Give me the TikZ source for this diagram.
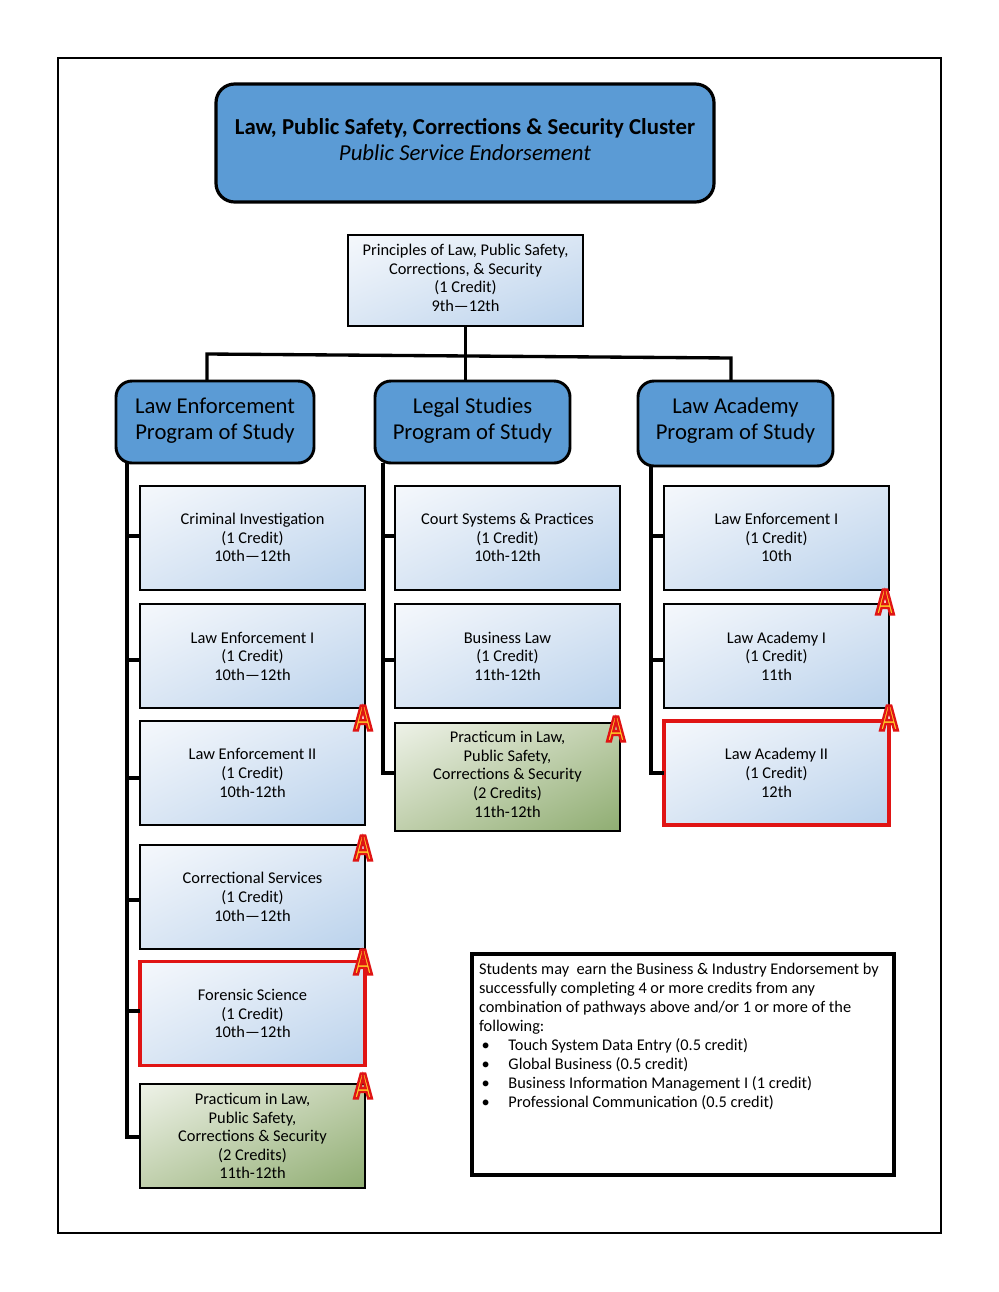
\documentclass[tikz,border=0pt]{standalone}
\usepackage{fontspec}
\setmainfont{Carlito}
\newfontface\badgefont[FakeBold=6.5,FakeStretch=0.74]{Liberation Sans Bold}
\usetikzlibrary{positioning,calc,shadings}
\definecolor{headblue}{RGB}{91,155,213}
\definecolor{alertred}{RGB}{224,20,20}
\definecolor{badgeyellow}{RGB}{255,205,40}
\definecolor{blueul}{RGB}{245,248,252}
\definecolor{bluemid}{RGB}{218,230,244}
\definecolor{bluelr}{RGB}{186,210,236}
\definecolor{greenul}{RGB}{238,242,232}
\definecolor{greenmid}{RGB}{192,207,172}
\definecolor{greenlr}{RGB}{143,173,114}
\tikzset{
  head/.style = {draw, line width=2.4pt, rounded corners=14pt, fill=headblue,
                 align=center, inner sep=0pt, outer sep=0pt,
                 font=\fontsize{17.1}{19.5}\selectfont},
  prog/.style = {head, rounded corners=12pt, line width=2.2pt,
                 font=\fontsize{17}{20}\selectfont},
  course/.style = {draw, line width=1.5pt, align=center, inner sep=0pt, outer sep=0pt,
                 minimum width=168.75pt, minimum height=78pt,
                 font=\fontsize{12.3}{14}\selectfont,
                 upper left=blueul, upper right=bluemid,
                 lower left=bluemid, lower right=bluelr},
  prac/.style = {course,
                 upper left=greenul, upper right=greenmid,
                 lower left=greenmid, lower right=greenlr},
  crit/.style = {draw=alertred, line width=2.7pt},
  wire/.style = {line width=2.5pt},
  badge/.style = {inner sep=0pt, text=badgeyellow,
                 font=\badgefont\fontsize{27}{27}\selectfont}
}
\newcommand{\redstroke}{\special{pdf:code 0.88 0.08 0.08 RG}}
\newcommand{\lift}[1]{\rule[-#1]{0pt}{#1}}
\begin{document}
\begin{tikzpicture}[x=0.75pt,y=-0.75pt]
    \useasboundingbox (0,0) rectangle (999,1292);
    \node[draw,line width=1.5pt,minimum width=662.25pt,minimum height=881.25pt,inner sep=0pt,outer sep=0pt] (frame) at (499.5,645.5){};
    \node[head,minimum width=373.5pt,minimum height=88.5pt] (title) at (465,143){{\bfseries Law, Public Safety, Corrections \& Security Cluster}\\{\itshape Public Service Endorsement}\lift{5.2pt}};
    \node[course,minimum width=176.25pt,minimum height=68.25pt] (intro) at (465.5,280.5){Principles of Law, Public Safety,\\Corrections, \& Security\\(1 Credit)\\9th—12th\lift{4.2pt}};
    % program heads
    \node[prog,minimum width=148.5pt,minimum height=61.5pt] (lawenf) at (215,422){Law Enforcement\\Program of Study\lift{4.9pt}};
    \node[prog,minimum width=146.25pt,minimum height=61.5pt] (legal) at (472.5,422){Legal Studies\\Program of Study\lift{4.9pt}};
    \node[prog,minimum width=146.25pt,minimum height=63.75pt] (academy) at (735.5,423.5){Law Academy\\Program of Study\lift{7.2pt}};
    % first column
    \node[course] (crim) at (252.5,537.5){Criminal Investigation\\(1 Credit)\\10th—12th};
    \node[course,below=11pt of crim] (leone){Law Enforcement I\\(1 Credit)\\10th—12th};
    \node[course,below=9.5pt of leone] (letwo){Law Enforcement II\\(1 Credit)\\10th-12th};
    \node[course,below=15pt of letwo] (corr){Correctional Services\\(1 Credit)\\10th—12th};
    \node[course,crit,below=9.5pt of corr] (foren){Forensic Science\\(1 Credit)\\10th—12th};
    \node[prac,font=\fontsize{12.3}{13.8}\selectfont,below=14pt of foren] (pracone){Practicum in Law,\\Public Safety,\\Corrections \& Security\\(2 Credits)\\11th-12th};
    % second column
    \node[course] (court) at (507.5,537.5){Court Systems \& Practices\\(1 Credit)\\10th-12th};
    \node[course,below=11pt of court] (busi){Business Law\\(1 Credit)\\11th-12th};
    \node[prac,minimum height=81pt,below=11pt of busi] (practwo){Practicum in Law,\\Public Safety,\\Corrections \& Security\\(2 Credits)\\11th-12th\lift{4.2pt}};
    % third column
    \node[course] (acleone) at (776.5,537.5){Law Enforcement I\\(1 Credit)\\10th};
    \node[course,below=11pt of acleone] (acone){Law Academy I\\(1 Credit)\\11th};
    \node[course,crit,below=9.5pt of acone] (actwo){Law Academy II\\(1 Credit)\\12th};
    % note
    \node[draw,line width=2.6pt,inner sep=0pt,outer sep=0pt,minimum width=316.5pt,minimum height=165.75pt,anchor=north west] (note) at (472,954){\begin{minipage}[t][159pt][t]{306pt}\fontsize{12.25}{14.25}\selectfont
      \vspace*{3.5pt}Students may\ \ earn the Business \& Industry Endorsement by\\
      successfully completing 4 or more credits from any\\
      combination of pathways above and/or 1 or more of the\\
      following:\\
      \hspace*{2pt}•\hspace{14pt}Touch System Data Entry (0.5 credit)\\
      \hspace*{2pt}•\hspace{14pt}Global Business (0.5 credit)\\
      \hspace*{2pt}•\hspace{14pt}Business Information Management I (1 credit)\\
      \hspace*{2pt}•\hspace{14pt}Professional Communication (0.5 credit)
    \end{minipage}};
    % connectors
    \coordinate (splitl) at (207,354);
    \coordinate (splitr) at (731,358);
    \coordinate (lespine) at (127,463);
    \coordinate (lgspine) at (383,463);
    \coordinate (acspine) at (651,466);
    \draw[wire] (intro.south)--(intro.south|-legal.north);
    \draw[wire] (lawenf.north-|splitl)--(splitl)--(splitr)--(academy.north-|splitr);
    \draw[wire] (lespine)|-(pracone.west|-0,1137);
    \draw[wire] (lgspine)|-(practwo.west|-0,773);
    \draw[wire] (acspine)|-(actwo.west);
    \foreach \b/\ty in {crim/536,leone/660,letwo/778,corr/900,foren/1011}
      \draw[wire] (\b.west|-0,\ty)--(lespine|-0,\ty);
    \foreach \b/\ty in {court/536,busi/660}
      \draw[wire] (\b.west|-0,\ty)--(lgspine|-0,\ty);
    \foreach \b/\ty in {acleone/536,acone/660}
      \draw[wire] (\b.west|-0,\ty)--(acspine|-0,\ty);
    % badges
    \foreach \n/\bx/\by in {bone/363/718,btwo/363/848,bthree/363/962,bfour/363/1086,bfive/616/729,bsix/885/602,bseven/889/718}
      \node[badge] (\n) at (\bx,\by){\redstroke A};
\end{tikzpicture}
\end{document}
